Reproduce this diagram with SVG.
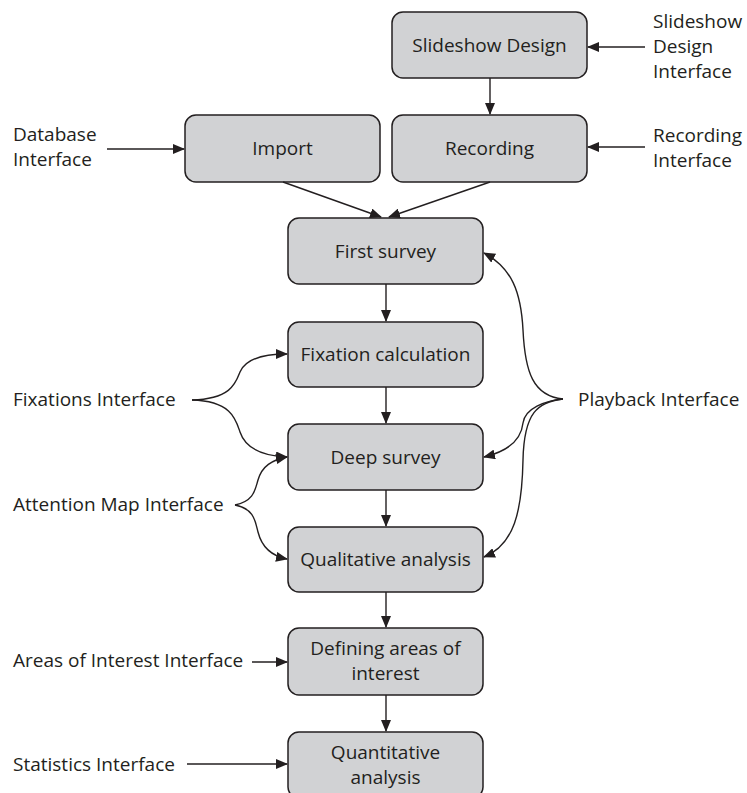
<svg xmlns="http://www.w3.org/2000/svg" width="747" height="793" viewBox="0 0 747 793">
<defs>
<marker id="ah" viewBox="0 0 12 10" refX="11" refY="5" markerWidth="12" markerHeight="10" markerUnits="userSpaceOnUse" orient="auto">
<path d="M0,0 L12,5 L0,10 Z" fill="#231f20"/>
</marker>
<style>
.box{fill:#d1d2d4;stroke:#231f20;stroke-width:1.5}
.t{font-family:"Open Sans","Noto Sans",sans-serif;font-size:19px;fill:#231f20}
.c{text-anchor:middle}
.ln{fill:none;stroke:#231f20;stroke-width:1.4;marker-end:url(#ah)}
</style>
</defs>
<rect width="747" height="793" fill="#ffffff"/>
<g id="slideshow-design"><rect class="box" x="392" y="12" width="195" height="66" rx="11"/><text class="t c" x="489.5" y="52">Slideshow Design</text></g>
<g id="import"><rect class="box" x="185" y="115" width="195" height="67" rx="11"/><text class="t c" x="282.5" y="155">Import</text></g>
<g id="recording"><rect class="box" x="392" y="115" width="195" height="67" rx="11"/><text class="t c" x="489.5" y="155">Recording</text></g>
<g id="first-survey"><rect class="box" x="288" y="218" width="195" height="66" rx="11"/><text class="t c" x="385.5" y="258">First survey</text></g>
<g id="fixation-calculation"><rect class="box" x="288" y="322" width="195" height="65" rx="11"/><text class="t c" x="385.5" y="361">Fixation calculation</text></g>
<g id="deep-survey"><rect class="box" x="288" y="424" width="195" height="66" rx="11"/><text class="t c" x="385.5" y="464">Deep survey</text></g>
<g id="qualitative-analysis"><rect class="box" x="288" y="527" width="195" height="65" rx="11"/><text class="t c" x="385.5" y="566">Qualitative analysis</text></g>
<g id="defining-areas"><rect class="box" x="288" y="628" width="195" height="67" rx="11"/><text class="t c" x="385.5" y="655">Defining areas of</text><text class="t c" x="385.5" y="680">interest</text></g>
<g id="quantitative-analysis"><rect class="box" x="288" y="732" width="195" height="66" rx="11"/><text class="t c" x="385.5" y="759">Quantitative</text><text class="t c" x="385.5" y="784">analysis</text></g>

<g id="labels">
<text class="t" x="653" y="28">Slideshow</text>
<text class="t" x="653" y="53">Design</text>
<text class="t" x="653" y="78">Interface</text>
<text class="t" x="653" y="142">Recording</text>
<text class="t" x="653" y="167">Interface</text>
<text class="t" x="13" y="141">Database</text>
<text class="t" x="13" y="166">Interface</text>
<text class="t" x="13" y="406">Fixations Interface</text>
<text class="t" x="13" y="511">Attention Map Interface</text>
<text class="t" x="578" y="406">Playback Interface</text>
<text class="t" x="13" y="667">Areas of Interest Interface</text>
<text class="t" x="13" y="771">Statistics Interface</text>
</g>

<g id="connectors">
<path class="ln" d="M645,47 L588,47"/>
<path class="ln" d="M645,147 L588,147"/>
<path class="ln" d="M107,149 L184,149"/>
<path class="ln" d="M490,78 L490,114"/>
<path class="ln" d="M283,182 L381,217"/>
<path class="ln" d="M490,182 L389,217"/>
<path class="ln" d="M386,284 L386,321"/>
<path class="ln" d="M386,387 L386,423"/>
<path class="ln" d="M386,490 L386,526"/>
<path class="ln" d="M386,592 L386,627"/>
<path class="ln" d="M386,695 L386,731"/>
<path class="ln" d="M252,662 L287,662"/>
<path class="ln" d="M187,764 L287,764"/>
<path class="ln" d="M192,400 C232,399 236,382 240,372 C246,358 265,354 287,354"/>
<path class="ln" d="M192,400 C232,401 236,420 240,432 C246,450 265,456 287,457"/>
<path class="ln" d="M235,505 C254,501 255,490 258,480 C262,466 272,460 287,457"/>
<path class="ln" d="M235,505 C254,509 255,520 258,532 C262,548 272,556 287,559"/>
<path class="ln" d="M563,399 C533,396 525,372 523,330 C521,292 512,268 484,253"/>
<path class="ln" d="M563,399 C545,401 525,408 523,423 C521,442 505,452 484,457"/>
<path class="ln" d="M563,399 C538,402 524,412 523,460 C522,512 514,545 484,557"/>
</g>
</svg>
